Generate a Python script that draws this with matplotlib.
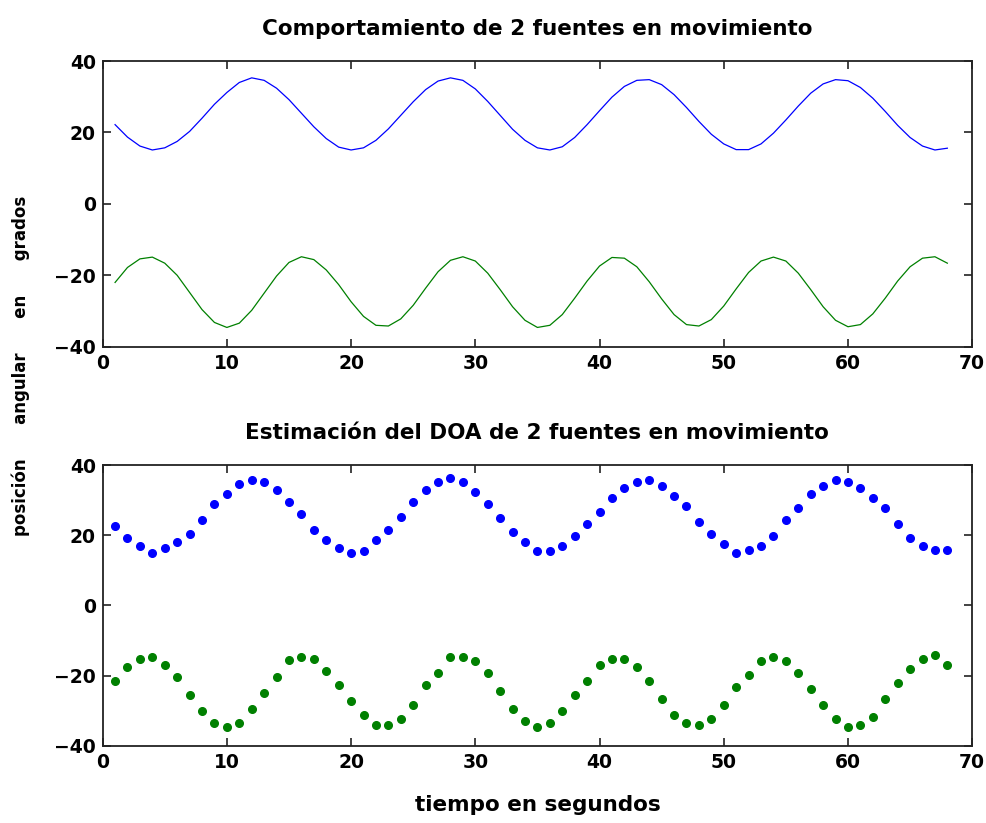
import matplotlib
matplotlib.use("Agg")
import matplotlib.pyplot as plt

plt.rcParams['font.family'] = ['DejaVu Sans']

t = list(range(1, 69))

true_src1 = [22.2, 18.7, 16.2, 15.1, 15.7, 17.5, 20.3, 24.0, 27.9, 31.2,
             34.0, 35.3, 34.6, 32.4, 29.2, 25.4, 21.6, 18.3, 15.9, 15.1,
             15.7, 17.8, 21.0, 24.8, 28.6, 32.0, 34.4, 35.3, 34.6, 32.2,
             28.7, 24.8, 20.9, 17.8, 15.7, 15.1, 16.0, 18.6, 22.2, 26.1,
             29.9, 32.9, 34.6, 34.8, 33.4, 30.6, 27.0, 23.1, 19.5, 16.8,
             15.2, 15.2, 16.8, 19.8, 23.5, 27.4, 31.0, 33.6, 34.8, 34.5,
             32.6, 29.6, 25.9, 22.0, 18.6, 16.2, 15.1, 15.6]

true_src2 = [-22.0, -17.8, -15.4, -14.9, -16.6, -20.0, -24.8, -29.6, -33.2, -34.6,
             -33.4, -29.8, -25.0, -20.2, -16.4, -14.8, -15.6, -18.5, -22.6, -27.4,
             -31.5, -34.0, -34.2, -32.2, -28.4, -23.6, -19.0, -15.8, -14.8, -16.0,
             -19.4, -24.0, -28.8, -32.6, -34.6, -34.0, -31.0, -26.4, -21.6, -17.4,
             -15.0, -15.2, -17.6, -21.8, -26.6, -31.0, -33.8, -34.2, -32.4, -28.6,
             -23.8, -19.2, -16.0, -14.9, -16.0, -19.4, -24.0, -28.8, -32.6, -34.4,
             -33.8, -30.8, -26.4, -21.6, -17.6, -15.2, -14.8, -16.6]

est_src1 = [22.7, 19.1, 16.9, 15.0, 16.3, 18.0, 20.4, 24.3, 28.9, 31.8,
            34.6, 35.7, 35.1, 32.9, 29.4, 26.0, 21.4, 18.7, 16.3, 15.0,
            15.6, 18.6, 21.4, 25.3, 29.5, 32.9, 35.1, 36.3, 35.1, 32.3,
            28.9, 24.9, 20.9, 18.1, 15.6, 15.6, 16.9, 19.7, 23.1, 26.7,
            30.6, 33.4, 35.1, 35.7, 34.0, 31.1, 28.3, 23.7, 20.3, 17.4,
            15.0, 15.7, 16.9, 19.7, 24.3, 27.7, 31.7, 34.0, 35.7, 35.1,
            33.4, 30.6, 27.7, 23.1, 19.1, 16.9, 15.7, 15.7]

est_src2 = [-21.5, -17.5, -15.2, -14.7, -16.9, -20.4, -25.5, -30.1, -33.5, -34.7,
            -33.5, -29.4, -25.0, -20.4, -15.7, -14.7, -15.2, -18.7, -22.7, -27.2,
            -31.2, -34.1, -34.1, -32.3, -28.4, -22.7, -19.2, -14.7, -14.7, -15.8,
            -19.2, -24.4, -29.5, -33.0, -34.7, -33.5, -30.1, -25.5, -21.5, -17.0,
            -15.2, -15.2, -17.5, -21.5, -26.7, -31.2, -33.5, -34.1, -32.4, -28.4,
            -23.2, -19.8, -15.8, -14.7, -15.8, -19.2, -23.8, -28.4, -32.4, -34.7,
            -34.1, -31.8, -26.7, -22.1, -18.1, -15.2, -14.1, -17.0]

x_ticks = [0, 10, 20, 30, 40, 50, 60, 70]
y_ticks = [-40, -20, 0, 20, 40]

title_top = "Comportamiento de 2 fuentes en movimiento"
title_bottom = "Estimación del DOA de 2 fuentes en movimiento"
xlabel = "tiempo en segundos"
ylabel = "posición      angular      en      grados"

BLUE = (0, 0, 1)
GREEN = (0, 0.5, 0)

fig = plt.figure(figsize=(9.87, 8.23), dpi=100)
ax1 = fig.add_axes([0.104, 0.5787, 0.881, 0.3471])
ax2 = fig.add_axes([0.104, 0.0939, 0.881, 0.3410])

ax1.plot(t, true_src1, color=BLUE, lw=0.9)
ax1.plot(t, true_src2, color=GREEN, lw=0.9)
ax2.plot(t, est_src1, linestyle='none', marker='o', ms=5.5, color=BLUE, mec=BLUE)
ax2.plot(t, est_src2, linestyle='none', marker='o', ms=5.5, color=GREEN, mec=GREEN)

for ax, ttl in ((ax1, title_top), (ax2, title_bottom)):
    ax.set_xlim(0, 70)
    ax.set_ylim(-40, 40)
    ax.set_xticks(x_ticks)
    ax.set_yticks(y_ticks)
    ax.tick_params(direction='in', length=6, width=1.2, top=True, right=True,
                   labelsize=13.5, color='#222222')
    ax.tick_params(axis='x', pad=5)
    ax.tick_params(axis='y', pad=5)
    for lab in ax.get_xticklabels() + ax.get_yticklabels():
        lab.set_fontweight('bold')
    for s in ax.spines.values():
        s.set_linewidth(1.3)
        s.set_color('#222222')
    ax.set_title(ttl, fontsize=15.5, fontweight='bold', pad=19)

ax2.set_xlabel(xlabel, fontsize=15.5, fontweight='bold', labelpad=17)
fig.text(0.021, 0.555, ylabel, rotation=90, ha='center', va='center',
         fontsize=12, fontweight='bold')

fig.savefig("out.png", dpi=100)
